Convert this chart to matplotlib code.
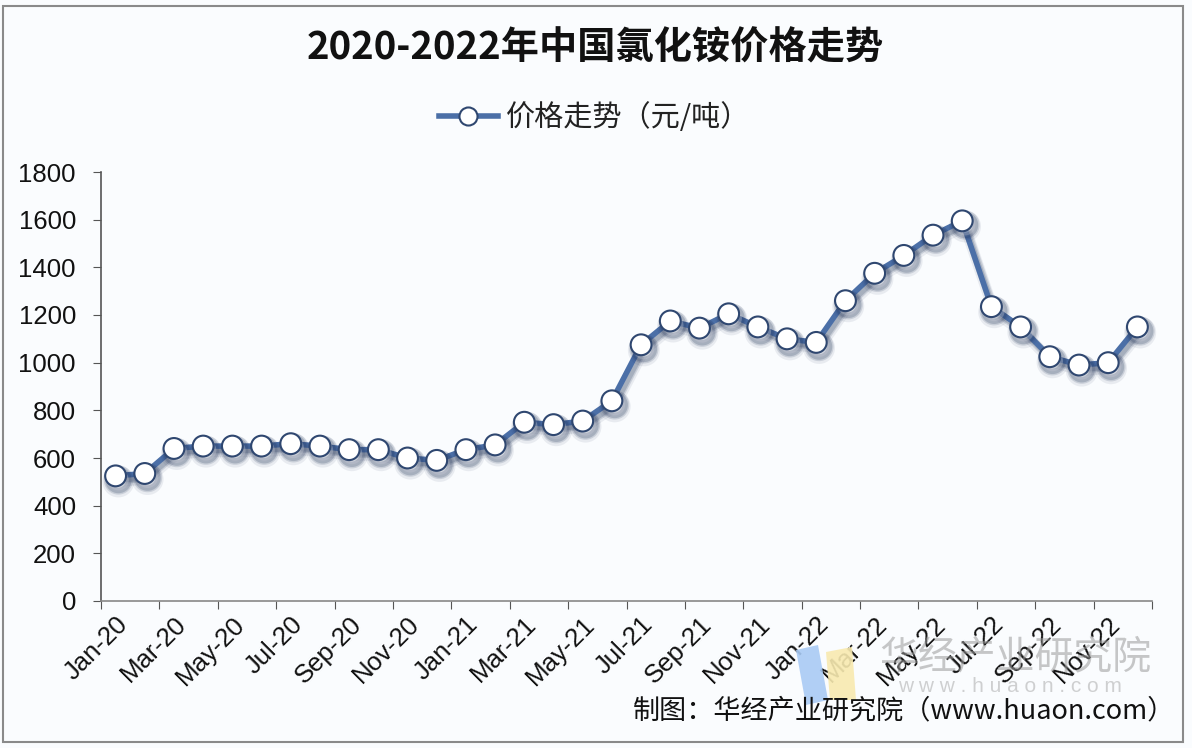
import matplotlib
matplotlib.use("Agg")
import matplotlib.pyplot as plt
import matplotlib.patheffects as pe
from matplotlib.patches import Rectangle, Polygon

plt.rcParams['font.family'] = ['Liberation Sans', 'Noto Sans CJK SC', 'DejaVu Sans']

title = "2020-2022年中国氯化铵价格走势"
series_name = "价格走势（元/吨）"
months = ["Jan-20", "Feb-20", "Mar-20", "Apr-20", "May-20", "Jun-20", "Jul-20", "Aug-20", "Sep-20",
          "Oct-20", "Nov-20", "Dec-20", "Jan-21", "Feb-21", "Mar-21", "Apr-21", "May-21", "Jun-21",
          "Jul-21", "Aug-21", "Sep-21", "Oct-21", "Nov-21", "Dec-21", "Jan-22", "Feb-22", "Mar-22",
          "Apr-22", "May-22", "Jun-22", "Jul-22", "Aug-22", "Sep-22", "Oct-22", "Nov-22", "Dec-22"]
prices = [525, 535, 640, 650, 650, 650, 660, 650, 635, 635, 600, 590,
          635, 655, 750, 740, 755, 840, 1075, 1175, 1145, 1205, 1150, 1100,
          1085, 1260, 1375, 1450, 1535, 1595, 1235, 1150, 1025, 990, 1000, 1150]
yticks = [0, 200, 400, 600, 800, 1000, 1200, 1400, 1600, 1800]
source = "制图：华经产业研究院（www.huaon.com）"

W, H = 1192, 748
fig = plt.figure(figsize=(W / 100, H / 100), dpi=100)
fig.patch.set_facecolor('#fafcfe')
fig.patches.append(Rectangle((3 / W, 6 / H), (1183 - 3) / W, (742 - 6) / H, transform=fig.transFigure,
                             fill=False, edgecolor='#8a8a8a', linewidth=1.5))

ax = fig.add_axes([101 / W, 1 - 601 / H, (1152 - 101) / W, (601 - 172) / H])
ax.set_facecolor('#fafcfe')

x = list(range(len(months)))
line_color = '#4b6fa7'
shadow = [pe.Stroke(offset=(2, -4), linewidth=8, foreground='#1e2f55', alpha=0.08),
          pe.Stroke(offset=(2, -3), linewidth=6, foreground='#1e2f55', alpha=0.15),
          pe.Stroke(offset=(2, -3), linewidth=4, foreground='#1e2f55', alpha=0.2),
          pe.Normal()]
ax.plot(x, prices, color=line_color, linewidth=4, marker='o', markersize=15,
        markerfacecolor='white', markeredgecolor='#2f4770', markeredgewidth=1.5,
        path_effects=shadow, label=series_name, zorder=3, clip_on=False)

ax.set_xlim(-0.5, len(months) - 0.5)
ax.set_ylim(0, 1800)
ax.set_yticks(yticks)
ax.set_yticklabels([str(v) for v in yticks], fontsize=18.5, color='#111111')

# category tick marks every 2 categories at boundaries
ax.set_xticks([i - 0.5 for i in range(0, len(months) + 1, 2)])
ax.set_xticklabels([])
ax.set_xticks(list(range(0, len(months), 2)), minor=True)
ax.set_xticklabels(months[::2], minor=True, rotation=45, ha='right', va='top',
                   fontsize=18.5, color='#111111', rotation_mode='anchor')
ax.tick_params(axis='x', which='minor', length=0, pad=8)
ax.tick_params(axis='x', which='major', length=6, color='#555555', direction='out')
ax.tick_params(axis='y', length=6, color='#555555', direction='out', pad=12)

for s in ['top', 'right']:
    ax.spines[s].set_visible(False)
ax.spines['left'].set_color('#555555')
ax.spines['bottom'].set_color('#888888')
ax.spines['left'].set_linewidth(1.2)
ax.spines['bottom'].set_linewidth(1.2)

fig.text(595 / W, 1 - 48 / H, title, ha='center', va='center', fontsize=27.5, fontweight='bold',
         family=['Noto Sans CJK SC', 'DejaVu Sans'], color='#111111')

leg = fig.legend(loc='center', bbox_to_anchor=(595 / W, 1 - 118 / H), frameon=False,
                 prop={'family': ['Noto Sans CJK SC', 'DejaVu Sans'], 'size': 21},
                 handlelength=2.0, handletextpad=0.3)
for h in leg.legend_handles:
    h.set_path_effects([])
    h.set_markersize(13)
for t in leg.get_texts():
    t.set_color('#222222')

# watermark
fig.patches.append(Polygon([[796 / W, 1 - 650 / H], [818 / W, 1 - 645 / H], [828 / W, 1 - 700 / H], [806 / W, 1 - 705 / H]],
                           closed=True, transform=fig.transFigure, facecolor='#a9cbf5', edgecolor='none', alpha=0.9))
fig.patches.append(Polygon([[826 / W, 1 - 652 / H], [852 / W, 1 - 647 / H], [856 / W, 1 - 700 / H], [830 / W, 1 - 700 / H]],
                           closed=True, transform=fig.transFigure, facecolor='#f8eab0', edgecolor='none', alpha=0.9))
fig.text(1015 / W, 1 - 657 / H, "华经产业研究院", ha='center', va='center', fontsize=28,
         family=['Noto Sans CJK SC', 'DejaVu Sans'], color='#9a9a9a', alpha=0.55)
fig.text(1010 / W, 1 - 686 / H, "w w w . h u a o n . c o m", ha='center', va='center', fontsize=15,
         color='#9a9a9a', alpha=0.45)

fig.text(1175 / W, 1 - 711 / H, source, ha='right', va='center', fontsize=19.5,
         family=['Noto Sans CJK SC', 'DejaVu Sans'], color='#111111')

fig.savefig('out.png', dpi=100, facecolor=fig.get_facecolor())
